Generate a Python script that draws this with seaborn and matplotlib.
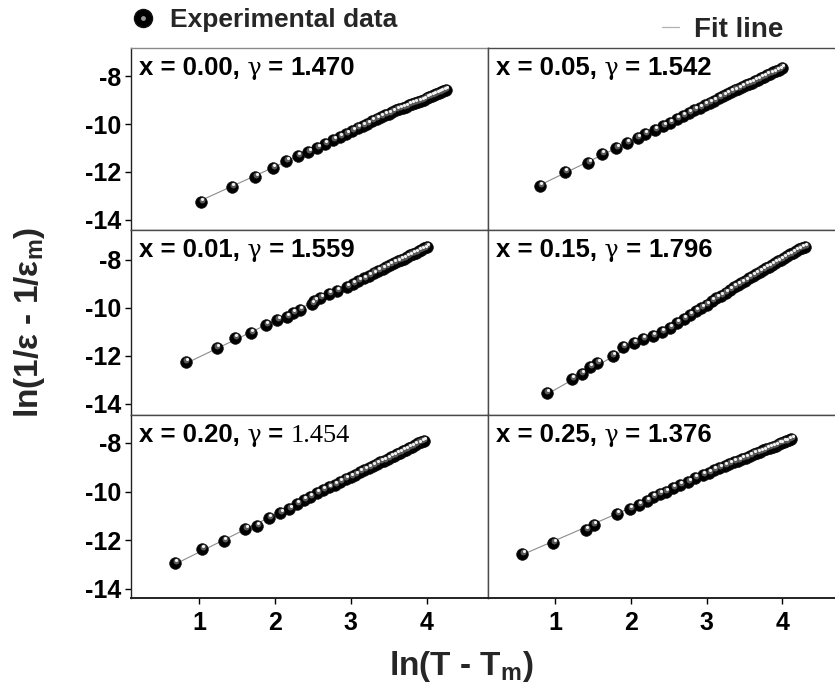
import matplotlib
matplotlib.use("Agg")
import matplotlib.pyplot as plt
from matplotlib.lines import Line2D
from matplotlib.legend_handler import HandlerTuple
from matplotlib.transforms import offset_copy
from matplotlib.offsetbox import TextArea, HPacker, AnchoredOffsetbox
import seaborn as sns
import pandas as pd

sns.set_style("white")
plt.rcParams["font.family"] = ["Liberation Sans", "DejaVu Sans"]
plt.rcParams["font.weight"] = "bold"
plt.rcParams["mathtext.fontset"] = "custom"
plt.rcParams["mathtext.rm"] = "Liberation Sans:bold"
plt.rcParams["mathtext.it"] = "Liberation Sans:bold"
plt.rcParams["mathtext.bf"] = "Liberation Sans:bold"

# ---------------- data ----------------
comp_labels = ["0.00", "0.05", "0.01", "0.15", "0.20", "0.25"]
gamma_labels = ["1.470", "1.542", "1.559", "1.796", "1.454", "1.376"]

x_000 = [1.02, 1.43, 1.74, 1.97, 2.15, 2.30, 2.44, 2.56, 2.66, 2.77,
         2.86, 2.94, 3.02, 3.09, 3.16, 3.22, 3.28, 3.34, 3.40, 3.45,
         3.50, 3.55, 3.60, 3.64, 3.69, 3.73, 3.77, 3.81, 3.85, 3.89,
         3.93, 3.96, 4.00, 4.03, 4.07, 4.10, 4.13, 4.16, 4.19, 4.22, 4.25]
y_000 = [-13.24, -12.64, -12.22, -11.85, -11.54, -11.33, -11.15, -10.99, -10.83, -10.67,
         -10.53, -10.41, -10.29, -10.18, -10.07, -9.98, -9.89, -9.80, -9.71, -9.64,
         -9.57, -9.50, -9.43, -9.38, -9.32, -9.27, -9.22, -9.17, -9.12, -9.07,
         -9.02, -8.98, -8.93, -8.89, -8.84, -8.80, -8.76, -8.72, -8.67, -8.63, -8.58]

x_005 = [0.80, 1.13, 1.44, 1.62, 1.81, 1.95, 2.09, 2.19, 2.32, 2.43,
         2.52, 2.61, 2.69, 2.77, 2.84, 2.91, 2.98, 3.04, 3.10, 3.16,
         3.22, 3.27, 3.32, 3.37, 3.42, 3.47, 3.52, 3.56, 3.60, 3.64,
         3.68, 3.72, 3.76, 3.80, 3.84, 3.88, 3.92, 3.96, 3.99]
y_005 = [-12.57, -12.01, -11.61, -11.25, -11.01, -10.78, -10.57, -10.42, -10.25, -10.08,
         -9.94, -9.80, -9.67, -9.54, -9.43, -9.32, -9.21, -9.11, -9.02, -8.92,
         -8.83, -8.75, -8.68, -8.60, -8.53, -8.46, -8.39, -8.33, -8.27, -8.21,
         -8.15, -8.09, -8.03, -7.97, -7.91, -7.85, -7.79, -7.73, -7.68]

x_001 = [0.82, 1.23, 1.47, 1.68, 1.88, 2.03, 2.16, 2.24, 2.33, 2.49,
         2.52, 2.60, 2.71, 2.82, 2.95, 3.03, 3.10, 3.17, 3.24, 3.30,
         3.36, 3.42, 3.47, 3.52, 3.57, 3.62, 3.66, 3.70, 3.74, 3.78,
         3.82, 3.86, 3.90, 3.93, 3.97, 4.00]
y_001 = [-12.26, -11.65, -11.26, -11.03, -10.71, -10.50, -10.36, -10.22, -10.08, -9.83,
         -9.70, -9.60, -9.42, -9.28, -9.11, -8.99, -8.88, -8.77, -8.66, -8.56,
         -8.47, -8.38, -8.30, -8.22, -8.14, -8.06, -8.00, -7.94, -7.87, -7.81,
         -7.75, -7.69, -7.63, -7.58, -7.52, -7.47]

x_015 = [0.89, 1.22, 1.35, 1.46, 1.56, 1.76, 1.90, 2.04, 2.16, 2.29,
         2.41, 2.52, 2.61, 2.70, 2.78, 2.86, 2.93, 3.00, 3.07, 3.13,
         3.19, 3.25, 3.31, 3.36, 3.41, 3.46, 3.51, 3.56, 3.61, 3.65,
         3.70, 3.74, 3.78, 3.82, 3.86, 3.90, 3.94, 3.98, 4.02, 4.06,
         4.10, 4.14, 4.18, 4.22, 4.26, 4.30]
y_015 = [-13.53, -12.96, -12.76, -12.47, -12.28, -12.00, -11.64, -11.47, -11.29, -11.17,
         -10.99, -10.82, -10.64, -10.46, -10.30, -10.14, -10.00, -9.86, -9.72, -9.60,
         -9.48, -9.36, -9.24, -9.14, -9.05, -8.95, -8.86, -8.76, -8.67, -8.59,
         -8.50, -8.42, -8.35, -8.28, -8.20, -8.13, -8.06, -7.98, -7.91, -7.84,
         -7.77, -7.70, -7.63, -7.56, -7.50, -7.45]

x_020 = [0.68, 1.04, 1.33, 1.61, 1.76, 1.92, 2.07, 2.19, 2.29, 2.38,
         2.46, 2.55, 2.63, 2.71, 2.79, 2.86, 2.93, 3.00, 3.06, 3.12,
         3.18, 3.24, 3.29, 3.34, 3.39, 3.44, 3.49, 3.53, 3.57, 3.61,
         3.65, 3.69, 3.73, 3.77, 3.81, 3.85, 3.89, 3.93, 3.96]
y_020 = [-12.95, -12.38, -12.02, -11.55, -11.40, -11.07, -10.89, -10.72, -10.51, -10.35,
         -10.21, -10.07, -9.95, -9.83, -9.71, -9.60, -9.50, -9.39, -9.30, -9.21,
         -9.12, -9.03, -8.95, -8.88, -8.80, -8.73, -8.65, -8.59, -8.53, -8.47,
         -8.41, -8.34, -8.28, -8.21, -8.15, -8.08, -8.02, -7.96, -7.91]

x_025 = [0.57, 0.98, 1.41, 1.51, 1.82, 1.99, 2.11, 2.21, 2.29, 2.38,
         2.46, 2.56, 2.65, 2.76, 2.85, 2.95, 3.03, 3.10, 3.17, 3.24,
         3.30, 3.36, 3.42, 3.47, 3.52, 3.57, 3.62, 3.67, 3.71, 3.75,
         3.79, 3.83, 3.87, 3.91, 3.95, 3.98, 4.02, 4.05, 4.09, 4.12]
y_025 = [-12.57, -12.13, -11.58, -11.37, -10.93, -10.72, -10.55, -10.37, -10.21, -10.10,
         -10.00, -9.86, -9.73, -9.59, -9.45, -9.32, -9.22, -9.13, -9.04, -8.95,
         -8.88, -8.80, -8.73, -8.66, -8.60, -8.54, -8.47, -8.41, -8.36, -8.31,
         -8.26, -8.21, -8.16, -8.11, -8.06, -8.02, -7.97, -7.94, -7.89, -7.85]

x_ticks = [1, 2, 3, 4]
y_ticks = [-8, -10, -12, -14]

series_x = [x_000, x_005, x_001, x_015, x_020, x_025]
series_y = [y_000, y_005, y_001, y_015, y_020, y_025]

# ---------------- layout ----------------
W, H = 835, 689
fig = plt.figure(figsize=(W / 100, H / 100), dpi=100)

col_left = [131, 488]
panel_w = 357
row_spans = [(48, 230), (230, 415), (415, 598)]
ylims = [(-14.42, -6.83), (-14.46, -6.75), (-14.38, -6.85)]
xlims = [(0.10, 4.81), (0.116, 4.826)]

spine_col = "#4a4a4a"
ann_size = 18.5

for i in range(6):
    r, c = divmod(i, 2)
    top, bot = row_spans[r]
    ax = fig.add_axes([col_left[c] / W, 1 - bot / H, panel_w / W, (bot - top) / H])
    df = pd.DataFrame({"x": series_x[i], "y": series_y[i]})
    sns.regplot(data=df, x="x", y="y", scatter=False, ci=None, ax=ax,
                line_kws=dict(color="#8c8c8c", lw=0.8, zorder=1))
    sns.scatterplot(data=df, x="x", y="y", ax=ax, color="black", s=72,
                    edgecolor="#111111", linewidth=0.4, zorder=3, legend=False)
    sns.scatterplot(data=df, x="x", y="y", ax=ax, color="#5a5a5a", s=18,
                    linewidth=0, zorder=4, legend=False,
                    transform=offset_copy(ax.transData, fig=fig, x=0.6, y=1.4, units="points"))
    sns.scatterplot(data=df, x="x", y="y", ax=ax, color="#f2f2f2", s=5,
                    linewidth=0, zorder=5, legend=False,
                    transform=offset_copy(ax.transData, fig=fig, x=0.9, y=2.1, units="points"))
    ax.set_xlim(*xlims[c])
    ax.set_ylim(*ylims[r])
    ax.set_xlabel("")
    ax.set_ylabel("")
    for s in ax.spines.values():
        s.set_color(spine_col)
        s.set_linewidth(1.0)
    if r == 0 and c == 0:
        ax.spines["top"].set_color("#8a8a8a")
    if r == 2:
        ax.spines["bottom"].set_color("#222222")
        ax.spines["bottom"].set_linewidth(1.4)
        ax.set_xticks(x_ticks)
        ax.set_xticklabels([str(t) for t in x_ticks])
        ax.tick_params(axis="x", bottom=True, direction="out", length=4, width=1,
                       pad=5, labelsize=18, colors="black")
    else:
        ax.set_xticks([])
    if c == 0:
        ax.set_yticks(y_ticks)
        ax.set_yticklabels([str(t) for t in y_ticks])
        ax.tick_params(axis="y", left=True, direction="out", length=4, width=1,
                       pad=3, labelsize=18, colors="black")
        ax.spines["left"].set_color("#222222")
    else:
        ax.set_yticks([])
    for lab in ax.get_xticklabels() + ax.get_yticklabels():
        lab.set_fontweight("bold")

    # annotation: "x = .., γ = .."
    bold = dict(family="Liberation Sans", weight="bold", size=ann_size, color="black")
    gam = dict(family="DejaVu Serif", weight="normal", size=ann_size - 1.5, color="black")
    if i == 4:
        num = dict(family="Liberation Serif", weight="normal", size=ann_size + 0.5, color="black")
    else:
        num = bold
    parts = [TextArea("x = %s," % comp_labels[i], textprops=bold),
             TextArea(" γ", textprops=gam),
             TextArea(" = ", textprops=bold),
             TextArea(gamma_labels[i], textprops=num)]
    pack = HPacker(children=parts, align="baseline", pad=0, sep=0)
    xoff = 8 / panel_w
    yoff = 1 - 8 / (bot - top)
    anc = AnchoredOffsetbox(loc="upper left", child=pack, pad=0, borderpad=0,
                            frameon=False, bbox_to_anchor=(xoff, yoff),
                            bbox_transform=ax.transAxes)
    ax.add_artist(anc)

# ---------------- legends ----------------
h_big = Line2D([], [], ls="none", marker="o", markersize=13, color="black",
               markeredgecolor="#111111")
h_hi = Line2D([], [], ls="none", marker="o", markersize=3.5, color="#9a9a9a",
              markeredgewidth=0)
fig.legend(handles=[(h_big, h_hi)], labels=["Experimental data"],
           handler_map={tuple: HandlerTuple(ndivide=1, pad=0)},
           loc="center left", bbox_to_anchor=(130 / W, 1 - 20 / H), frameon=False,
           borderpad=0, borderaxespad=0, handlelength=1.0, handletextpad=0.5,
           prop=dict(family="Liberation Sans", weight="bold", size=19))
h_fit = Line2D([], [], color="#b0b0b0", lw=0.9)
fig.legend(handles=[h_fit], labels=["Fit line"], loc="center left",
           bbox_to_anchor=(662 / W, 1 - 30 / H), frameon=False, borderpad=0,
           borderaxespad=0, handlelength=0.6, handletextpad=0.55,
           prop=dict(family="Liberation Sans", weight="bold", size=20))

# ---------------- axis titles ----------------
fig.text(30 / W, 1 - 322 / H, r"ln(1/ε - 1/ε$_\mathrm{m}$)", rotation=90,
         ha="center", va="center", fontsize=24, fontweight="bold")
fig.text(461 / W, 1 - 666 / H, r"ln(T - T$_\mathrm{m}$)", ha="center", va="center",
         fontsize=24, fontweight="bold")

fig.savefig("out.png", dpi=100)
